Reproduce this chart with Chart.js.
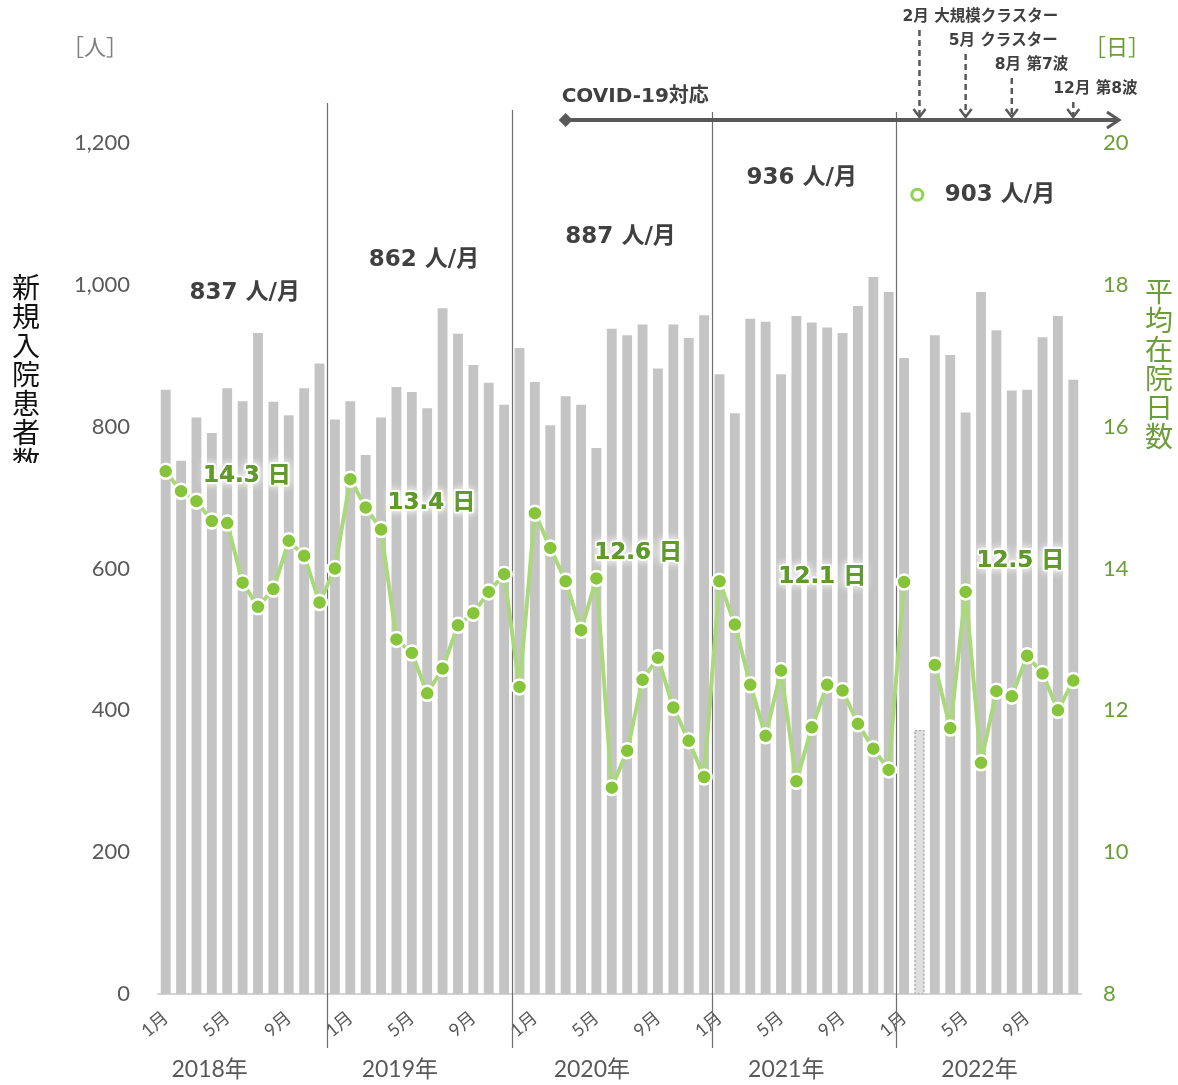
<!DOCTYPE html>
<html lang="ja">
<head>
<meta charset="utf-8">
<title>新規入院患者数と平均在院日数</title>
<script src="https://cdn.jsdelivr.net/npm/chart.js@4.4.1/dist/chart.umd.min.js"></script>
<style>
  html, body { margin: 0; padding: 0; background: #fff; }
  #wrap { position: relative; width: 1178px; height: 1085px; }
</style>
</head>
<body>
<div id="wrap"><canvas id="stayChart"></canvas></div>
<script>
// 2018年1月 - 2022年12月 の月次データ
const years = ['2018', '2019', '2020', '2021', '2022'];
const monthNames = ['1月', '2月', '3月', '4月', '5月', '6月', '7月', '8月', '9月', '10月', '11月', '12月'];
const monthTicks = ['1月', '5月', '9月']; // 軸に出す月だけ

// 新規入院患者数 [人]
const admissions = [
  852, 752, 813, 791, 854, 836, 932, 835, 816, 854, 889, 810,
  836, 760, 813, 856, 849, 826, 967, 931, 887, 862, 831, 911,
  863, 802, 843, 831, 770, 938, 929, 944, 882, 944, 925, 957,
  874, 819, 952, 948, 874, 956, 947, 940, 932, 970, 1011, 990,
  897, 372, 929, 901, 820, 990, 936, 851, 852, 926, 956, 866
];

// 平均在院日数 [日]  (2022年2月は欠測)
const avgStay = [
  15.37, 15.09, 14.95, 14.67, 14.64, 13.80, 13.46, 13.71, 14.39, 14.18, 13.52, 14.00,
  15.26, 14.86, 14.55, 13.00, 12.81, 12.24, 12.59, 13.20, 13.37, 13.67, 13.92, 12.33,
  14.78, 14.29, 13.82, 13.13, 13.86, 10.91, 11.43, 12.43, 12.74, 12.04, 11.57, 11.06,
  13.82, 13.21, 12.36, 11.64, 12.56, 11.00, 11.76, 12.36, 12.28, 11.81, 11.46, 11.16,
  13.81, null, 12.64, 11.75, 13.67, 11.26, 12.27, 12.20, 12.77, 12.52, 12.00, 12.42
];

const yearAvgAdmissions = ['837', '862', '887', '936', '903'];
const yearAvgStay = ['14.3', '13.4', '12.6', '12.1', '12.5'];

const covidStart = 26;        // 2020年3月
const provisionalMonth = 49;  // 2022年2月 (点線の棒)
const events = ['2月 大規模クラスター', '5月 クラスター', '8月 第7波', '12月 第8波'];
const eventMonths = [49, 52, 55, 59];

const leftTicks = [0, 200, 400, 600, 800, 1000, 1200];
const rightTicks = [8, 10, 12, 14, 16, 18, 20];

// 注釈の置き場所 (x: 月の位置, y: 軸の値)
const avgAdmPos = [[5.14, 988], [16.79, 1035], [29.57, 1067], [41.35, 1151], [54.23, 1127]];
const avgStayPos = [[5.27, 15.30], [17.27, 14.92], [30.71, 14.22], [42.68, 13.88], [55.56, 14.11]];
const yearLabelPos = [2.86, 15.22, 27.7, 40.34, 52.9];
const dividerPos = [10.5, 22.5, 35.5, 47.5];
const dividerTop = [40, 33, 31, 31];

const categories = years.flatMap(y => monthNames.map(m => y + '年' + m));

const SANS = '"Lato", "Noto Sans CJK JP", sans-serif';
const BOLD = '"DejaVu Sans", "Noto Sans CJK JP", sans-serif';
const CJK = '"Noto Sans CJK JP", sans-serif';
const GRAY = '#595959';
const GREEN = '#6b9e37';
const GREEN_TXT = '#5f9a2b';

function fmt(v) { return String(v).replace(/\B(?=(\d{3})+(?!\d))/g, ','); }

function vText(ctx, str, x, y0, step) {
  [...str].forEach((ch, i) => ctx.fillText(ch, x, y0 + i * step));
}

function downArrow(ctx, x, y1, y2) {
  ctx.save();
  ctx.setLineDash([6, 4]);
  ctx.beginPath();
  ctx.moveTo(x, y1);
  ctx.lineTo(x, y2 - 2);
  ctx.stroke();
  ctx.setLineDash([]);
  ctx.beginPath();
  ctx.moveTo(x - 6, y2 - 8);
  ctx.lineTo(x, y2);
  ctx.lineTo(x + 6, y2 - 8);
  ctx.stroke();
  ctx.restore();
}

const annotate = {
  id: 'annotate',
  beforeDatasetsDraw(chart) {
    const ctx = chart.ctx, xs = chart.scales.x, area = chart.chartArea;
    ctx.save();
    ctx.strokeStyle = '#6e6e6e';
    ctx.lineWidth = 1.2;
    dividerPos.forEach((p, i) => {
      const x = Math.round(xs.getPixelForValue(p)) + 0.5;
      ctx.beginPath();
      ctx.moveTo(x, area.top - dividerTop[i]);
      ctx.lineTo(x, area.bottom + 54);
      ctx.stroke();
    });
    ctx.restore();
  },
  afterDatasetsDraw(chart) {
    const ctx = chart.ctx, xs = chart.scales.x, yl = chart.scales.y, yr = chart.scales.y1;
    const area = chart.chartArea;

    // 2022年2月の点線枠
    const el = chart.getDatasetMeta(1).data[provisionalMonth];
    const b = el.getProps(['x', 'y', 'base', 'width'], true);
    ctx.save();
    ctx.setLineDash([2, 2]);
    ctx.strokeStyle = '#a6a6a6';
    ctx.lineWidth = 1.2;
    ctx.strokeRect(b.x - b.width / 2 + 0.5, b.y + 0.5, b.width - 1, b.base - b.y - 1);
    ctx.restore();

    // 年平均 患者数
    ctx.save();
    ctx.font = 'bold 23px ' + BOLD;
    ctx.fillStyle = '#404040';
    ctx.textAlign = 'center';
    ctx.textBaseline = 'middle';
    yearAvgAdmissions.forEach((v, i) => {
      const [p, val] = avgAdmPos[i];
      ctx.fillText(v + ' 人/月', xs.getPixelForValue(p), yl.getPixelForValue(val));
    });
    const cx = xs.getPixelForValue(48.86), cy = yl.getPixelForValue(1127);
    ctx.beginPath();
    ctx.arc(cx, cy, 5.5, 0, Math.PI * 2);
    ctx.strokeStyle = '#92d050';
    ctx.lineWidth = 3;
    ctx.stroke();
    ctx.restore();

    // 年平均 在院日数
    ctx.save();
    ctx.font = 'bold 23px ' + BOLD;
    ctx.textAlign = 'center';
    ctx.textBaseline = 'middle';
    yearAvgStay.forEach((v, i) => {
      const [p, val] = avgStayPos[i];
      const x = xs.getPixelForValue(p), y = yr.getPixelForValue(val);
      const t = v + ' 日';
      ctx.shadowColor = 'rgba(255,255,255,1)';
      ctx.shadowBlur = 8;
      ctx.strokeStyle = 'rgba(255,255,255,0.9)';
      ctx.lineWidth = 4;
      ctx.lineJoin = 'round';
      ctx.strokeText(t, x, y);
      ctx.fillStyle = GREEN_TXT;
      ctx.fillText(t, x, y);
      ctx.shadowBlur = 0;
      ctx.fillText(t, x, y);
    });
    ctx.restore();

    // COVID-19 対応 の矢印
    ctx.save();
    ctx.strokeStyle = GRAY;
    ctx.fillStyle = GRAY;
    const ly = area.top - 23;
    const x0 = xs.getPixelForValue(covidStart);
    const x1 = area.right + 38;
    ctx.lineWidth = 4;
    ctx.beginPath();
    ctx.moveTo(x0, ly);
    ctx.lineTo(x1 - 2, ly);
    ctx.stroke();
    ctx.lineWidth = 3;
    ctx.beginPath();
    ctx.moveTo(x1 - 12, ly - 8);
    ctx.lineTo(x1, ly);
    ctx.lineTo(x1 - 12, ly + 8);
    ctx.stroke();
    ctx.beginPath();
    ctx.moveTo(x0 - 7, ly);
    ctx.lineTo(x0, ly - 7);
    ctx.lineTo(x0 + 7, ly);
    ctx.lineTo(x0, ly + 7);
    ctx.closePath();
    ctx.fill();
    ctx.font = 'bold 20px ' + BOLD;
    ctx.textAlign = 'left';
    ctx.textBaseline = 'middle';
    ctx.fillStyle = '#404040';
    ctx.fillText('COVID-19対応', x0 - 4, ly - 23);

    // 出来事
    ctx.lineWidth = 2.5;
    ctx.font = 'bold 15.5px ' + BOLD;
    events.forEach((t, i) => {
      const x = xs.getPixelForValue(eventMonths[i]);
      const ty = 17 + i * 24;
      ctx.fillText(t, x - (i === 3 ? 20 : 17), ty);
      downArrow(ctx, x, ty + 13, ly - 3);
    });
    ctx.restore();
  },
  afterDraw(chart) {
    const ctx = chart.ctx, xs = chart.scales.x, area = chart.chartArea;
    ctx.save();
    ctx.textAlign = 'center';
    ctx.textBaseline = 'middle';

    // 年
    ctx.font = '23px ' + SANS;
    ctx.fillStyle = GRAY;
    years.forEach((y, i) => ctx.fillText(y + '年', xs.getPixelForValue(yearLabelPos[i]), area.bottom + 76));

    // 単位
    ctx.font = '22px ' + CJK;
    ctx.fillStyle = '#808080';
    ctx.fillText('［人］', 95, 47);
    ctx.fillStyle = GREEN;
    ctx.fillText('［日］', 1117, 47);

    // 軸タイトル
    ctx.font = '28px ' + CJK;
    ctx.save();
    ctx.beginPath();
    ctx.rect(0, 0, 70, 463);
    ctx.clip();
    ctx.fillStyle = '#111';
    vText(ctx, '新規入院患者数', 26, 287, 29);
    ctx.restore();
    ctx.fillStyle = GREEN;
    vText(ctx, '平均在院日数', 1159, 291, 29);
    ctx.restore();
  }
};

new Chart(document.getElementById('stayChart'), {
  data: {
    labels: categories,
    datasets: [
      {
        type: 'line',
        label: '平均在院日数',
        data: avgStay,
        yAxisID: 'y1',
        order: 0,
        spanGaps: false,
        borderColor: '#a9d97a',
        borderWidth: 4,
        pointRadius: 7.5,
        pointBackgroundColor: '#86c43a',
        pointBorderColor: '#ffffff',
        pointBorderWidth: 2.5,
        tension: 0
      },
      {
        type: 'bar',
        label: '新規入院患者数',
        data: admissions,
        yAxisID: 'y',
        order: 1,
        backgroundColor: admissions.map((v, i) => i === provisionalMonth ? '#dedede' : '#c4c4c4'),
        borderWidth: 0,
        barPercentage: 0.64,
        categoryPercentage: 1
      }
    ]
  },
  options: {
    responsive: true,
    maintainAspectRatio: false,
    animation: false,
    layout: { padding: { top: 143, left: 0, right: 0, bottom: 0 } },
    plugins: { legend: { display: false }, tooltip: { enabled: false } },
    scales: {
      x: {
        offset: true,
        grid: { display: false, drawTicks: false },
        border: { display: true, color: '#d4d4d4', width: 2 },
        ticks: {
          autoSkip: false,
          minRotation: 40,
          maxRotation: 40,
          padding: 13,
          color: GRAY,
          font: { size: 18, family: SANS },
          callback: (v, i) => {
            const m = monthNames[i % 12];
            return monthTicks.includes(m) ? m : '';
          }
        },
        afterFit: s => { s.height = 91; }
      },
      y: {
        position: 'left',
        min: 0,
        max: 1200,
        grid: { display: false, drawTicks: false },
        border: { display: false },
        afterBuildTicks: s => { s.ticks = leftTicks.map(v => ({ value: v })); },
        ticks: { padding: 28, color: GRAY, font: { size: 22, family: SANS }, callback: v => fmt(v) },
        afterFit: s => { s.width = 158; }
      },
      y1: {
        position: 'right',
        min: 8,
        max: 20,
        grid: { display: false, drawTicks: false },
        border: { display: false },
        afterBuildTicks: s => { s.ticks = rightTicks.map(v => ({ value: v })); },
        ticks: { padding: 22, color: GREEN, font: { size: 22, family: SANS } },
        afterFit: s => { s.width = 97; }
      }
    }
  },
  plugins: [annotate]
});
</script>
</body>
</html>
